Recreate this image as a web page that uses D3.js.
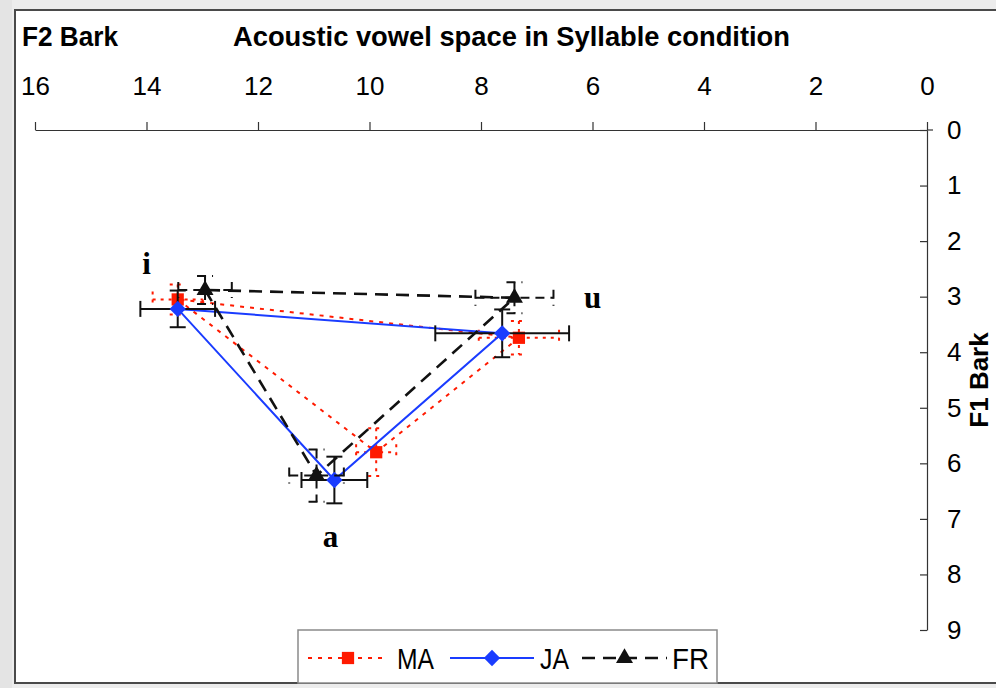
<!DOCTYPE html>
<html>
<head>
<meta charset="utf-8">
<script src="https://cdn.jsdelivr.net/npm/d3@7"></script>
<style>
  html, body { margin: 0; padding: 0; background: #ececec; }
  svg { display: block; }
  .narrow { font-family: 'Liberation Sans Narrow', 'Arial Narrow', 'Liberation Sans', sans-serif; }
</style>
</head>
<body>
<svg id="chart" width="996" height="688"></svg>
<script>
// Vowels (i, a, u) and per-speaker-group formant means (Bark) with SDs
const vowels = ["i", "a", "u"];

const maF2 = [13.44, 9.88, 7.32];
const maF1 = [3.05, 5.80, 3.74];
const maF2sd = [0.45, 0.36, 0.72];
const maF1sd = [0.27, 0.43, 0.30];

const jaF2 = [13.44, 10.63, 7.62];
const jaF1 = [3.22, 6.30, 3.66];
const jaF2sd = [0.67, 0.59, 1.20];
const jaF1sd = [0.33, 0.42, 0.43];

const frF2 = [12.95, 10.95, 7.40];
const frF1 = [2.88, 6.22, 3.02];
const frF2sd = [0.48, 0.49, 0.70];
const frF1sd = [0.25, 0.47, 0.28];

const seriesNames = ["MA", "JA", "FR"];
const f2Ticks = [16, 14, 12, 10, 8, 6, 4, 2, 0];
const f1Ticks = [0, 1, 2, 3, 4, 5, 6, 7, 8, 9];

const titleText = "Acoustic vowel space in Syllable condition";
const xTitle = "F2 Bark";
const yTitle = "F1 Bark";

// Vowel label positions in (F2, F1) units
const vowelLabelF2 = [14.0, 10.7, 6.0];
const vowelLabelF1 = [2.6, 7.5, 3.2];

const svg = d3.select("#chart");

// page / frame
svg.append("rect").attr("x", 0).attr("y", 0).attr("width", 996).attr("height", 688).attr("fill", "#ececec");
svg.append("rect").attr("x", 0).attr("y", 0).attr("width", 12).attr("height", 688).attr("fill", "#e4e4e4");
svg.append("rect").attr("x", 15).attr("y", 10).attr("width", 1000).attr("height", 673)
  .attr("fill", "#ffffff").attr("stroke", "#4a4a4a").attr("stroke-width", 2);

// scales: reversed F2 on top, F1 increasing downward on right
const x = d3.scaleLinear().domain([16, 0]).range([35, 927]);
const y = d3.scaleLinear().domain([0, 9]).range([130, 630]);

// axes
const xAxis = d3.axisTop(x).tickValues(f2Ticks).tickSizeInner(8).tickSizeOuter(0).tickPadding(27);
const gx = svg.append("g").attr("transform", `translate(0,${y(0)})`).call(xAxis);
gx.selectAll("text").attr("class", "narrow").attr("font-size", 26).attr("fill", "#000");
gx.select(".domain").attr("stroke", "#333").attr("stroke-width", 1.2);
gx.selectAll(".tick line").attr("stroke", "#333").attr("stroke-width", 1.2);

const yAxis = d3.axisRight(y).tickValues(f1Ticks).tickSizeInner(-7).tickSizeOuter(0).tickPadding(20);
const gy = svg.append("g").attr("transform", `translate(${x(0)},0)`).call(yAxis);
gy.selectAll("text").attr("class", "narrow").attr("font-size", 26).attr("fill", "#000");
gy.select(".domain").attr("stroke", "#333").attr("stroke-width", 1.2);
gy.selectAll(".tick line").attr("stroke", "#333").attr("stroke-width", 1.2);

// small overshoot where the two axes meet
svg.append("line").attr("x1", x(0)).attr("x2", x(0) + 6).attr("y1", y(0)).attr("y2", y(0))
  .attr("stroke", "#333").attr("stroke-width", 1.2);

// titles (condensed bold)
svg.append("text").attr("class", "narrow").attr("x", 22).attr("y", 46)
  .attr("font-size", 28).attr("font-weight", "bold")
  .attr("textLength", 96).attr("lengthAdjust", "spacingAndGlyphs").text(xTitle);
svg.append("text").attr("class", "narrow").attr("x", 233).attr("y", 46)
  .attr("font-size", 28).attr("font-weight", "bold")
  .attr("textLength", 557).attr("lengthAdjust", "spacingAndGlyphs").text(titleText);
svg.append("text").attr("class", "narrow")
  .attr("transform", `translate(988,${y(4.5)}) rotate(-90)`)
  .attr("text-anchor", "middle").attr("font-size", 26).attr("font-weight", "bold").text(yTitle);

// series definitions
const series = [
  { name: seriesNames[0], f2: maF2, f1: maF1, f2sd: maF2sd, f1sd: maF1sd,
    color: "#ff1a00", dash: "4,6", width: 2, barColor: "#ff1a00", barDash: "3,5", marker: "square" },
  { name: seriesNames[1], f2: jaF2, f1: jaF1, f2sd: jaF2sd, f1sd: jaF1sd,
    color: "#1a3cff", dash: null, width: 2, barColor: "#111", barDash: null, marker: "diamond" },
  { name: seriesNames[2], f2: frF2, f1: frF1, f2sd: frF2sd, f1sd: frF1sd,
    color: "#111", dash: "13,8", width: 2.6, barColor: "#111", barDash: "9,6", marker: "triangle" }
];

const symbolOf = {
  square: d3.symbol().type(d3.symbolSquare).size(150),
  diamond: d3.symbol().type(d3.symbolDiamond2).size(170),
  triangle: d3.symbol().type(d3.symbolTriangle).size(125)
};

const line = d3.line().x(d => x(d.f2)).y(d => y(d.f1));
const cap = 8;

series.forEach(s => {
  const pts = vowels.map((v, i) => ({ v, f2: s.f2[i], f1: s.f1[i], f2sd: s.f2sd[i], f1sd: s.f1sd[i] }));
  const g = svg.append("g");

  // closed vowel triangle i -> a -> u -> i
  g.append("path").datum([...pts, pts[0]]).attr("d", line)
    .attr("fill", "none").attr("stroke", s.color).attr("stroke-width", s.width)
    .attr("stroke-dasharray", s.dash);

  // error bars (F2 horizontal, F1 vertical) with caps
  const eb = g.append("g").attr("stroke", s.barColor).attr("stroke-width", 2)
    .attr("stroke-dasharray", s.barDash).attr("fill", "none");
  pts.forEach(p => {
    const cx = x(p.f2), cy = y(p.f1);
    const xl = x(p.f2 + p.f2sd), xr = x(p.f2 - p.f2sd);
    const yt = y(p.f1 - p.f1sd), yb = y(p.f1 + p.f1sd);
    eb.append("line").attr("x1", xl).attr("x2", xr).attr("y1", cy).attr("y2", cy);
    eb.append("line").attr("x1", xl).attr("x2", xl).attr("y1", cy - cap).attr("y2", cy + cap);
    eb.append("line").attr("x1", xr).attr("x2", xr).attr("y1", cy - cap).attr("y2", cy + cap);
    eb.append("line").attr("x1", cx).attr("x2", cx).attr("y1", yt).attr("y2", yb);
    eb.append("line").attr("x1", cx - cap).attr("x2", cx + cap).attr("y1", yt).attr("y2", yt);
    eb.append("line").attr("x1", cx - cap).attr("x2", cx + cap).attr("y1", yb).attr("y2", yb);
  });

  // markers
  g.selectAll("path.mk").data(pts).join("path").attr("class", "mk")
    .attr("transform", d => `translate(${x(d.f2)},${y(d.f1)})`)
    .attr("d", symbolOf[s.marker]())
    .attr("fill", s.color).attr("stroke", "none");
});

// vowel labels
svg.selectAll("text.vowel").data(vowels).join("text").attr("class", "vowel")
  .attr("x", (d, i) => x(vowelLabelF2[i])).attr("y", (d, i) => y(vowelLabelF1[i]))
  .attr("text-anchor", "middle")
  .attr("font-family", "'Liberation Serif', 'Times New Roman', serif")
  .attr("font-weight", "bold").attr("font-size", 31).text(d => d);

// legend
const lg = svg.append("g");
lg.append("rect").attr("x", 298).attr("y", 630).attr("width", 419).attr("height", 53)
  .attr("fill", "#fff").attr("stroke", "#8a8a8a").attr("stroke-width", 1.5);
const legendItems = [
  { s: series[0], x0: 308, x1: 388, tx: 397 },
  { s: series[1], x0: 450, x1: 534, tx: 540 },
  { s: series[2], x0: 582, x1: 667, tx: 672 }
];
const ly = 658;
legendItems.forEach(it => {
  lg.append("line").attr("x1", it.x0).attr("x2", it.x1).attr("y1", ly).attr("y2", ly)
    .attr("stroke", it.s.color).attr("stroke-width", it.s.width).attr("stroke-dasharray", it.s.dash);
  lg.append("path").attr("transform", `translate(${(it.x0 + it.x1) / 2},${ly})`)
    .attr("d", symbolOf[it.s.marker]()).attr("fill", it.s.color);
  lg.append("text").attr("class", "narrow").attr("x", it.tx).attr("y", ly + 11)
    .attr("font-size", 30).attr("fill", "#000")
    .attr("textLength", it.s.name === "JA" ? 29 : 37).attr("lengthAdjust", "spacingAndGlyphs")
    .text(it.s.name);
});
</script>
</body>
</html>
